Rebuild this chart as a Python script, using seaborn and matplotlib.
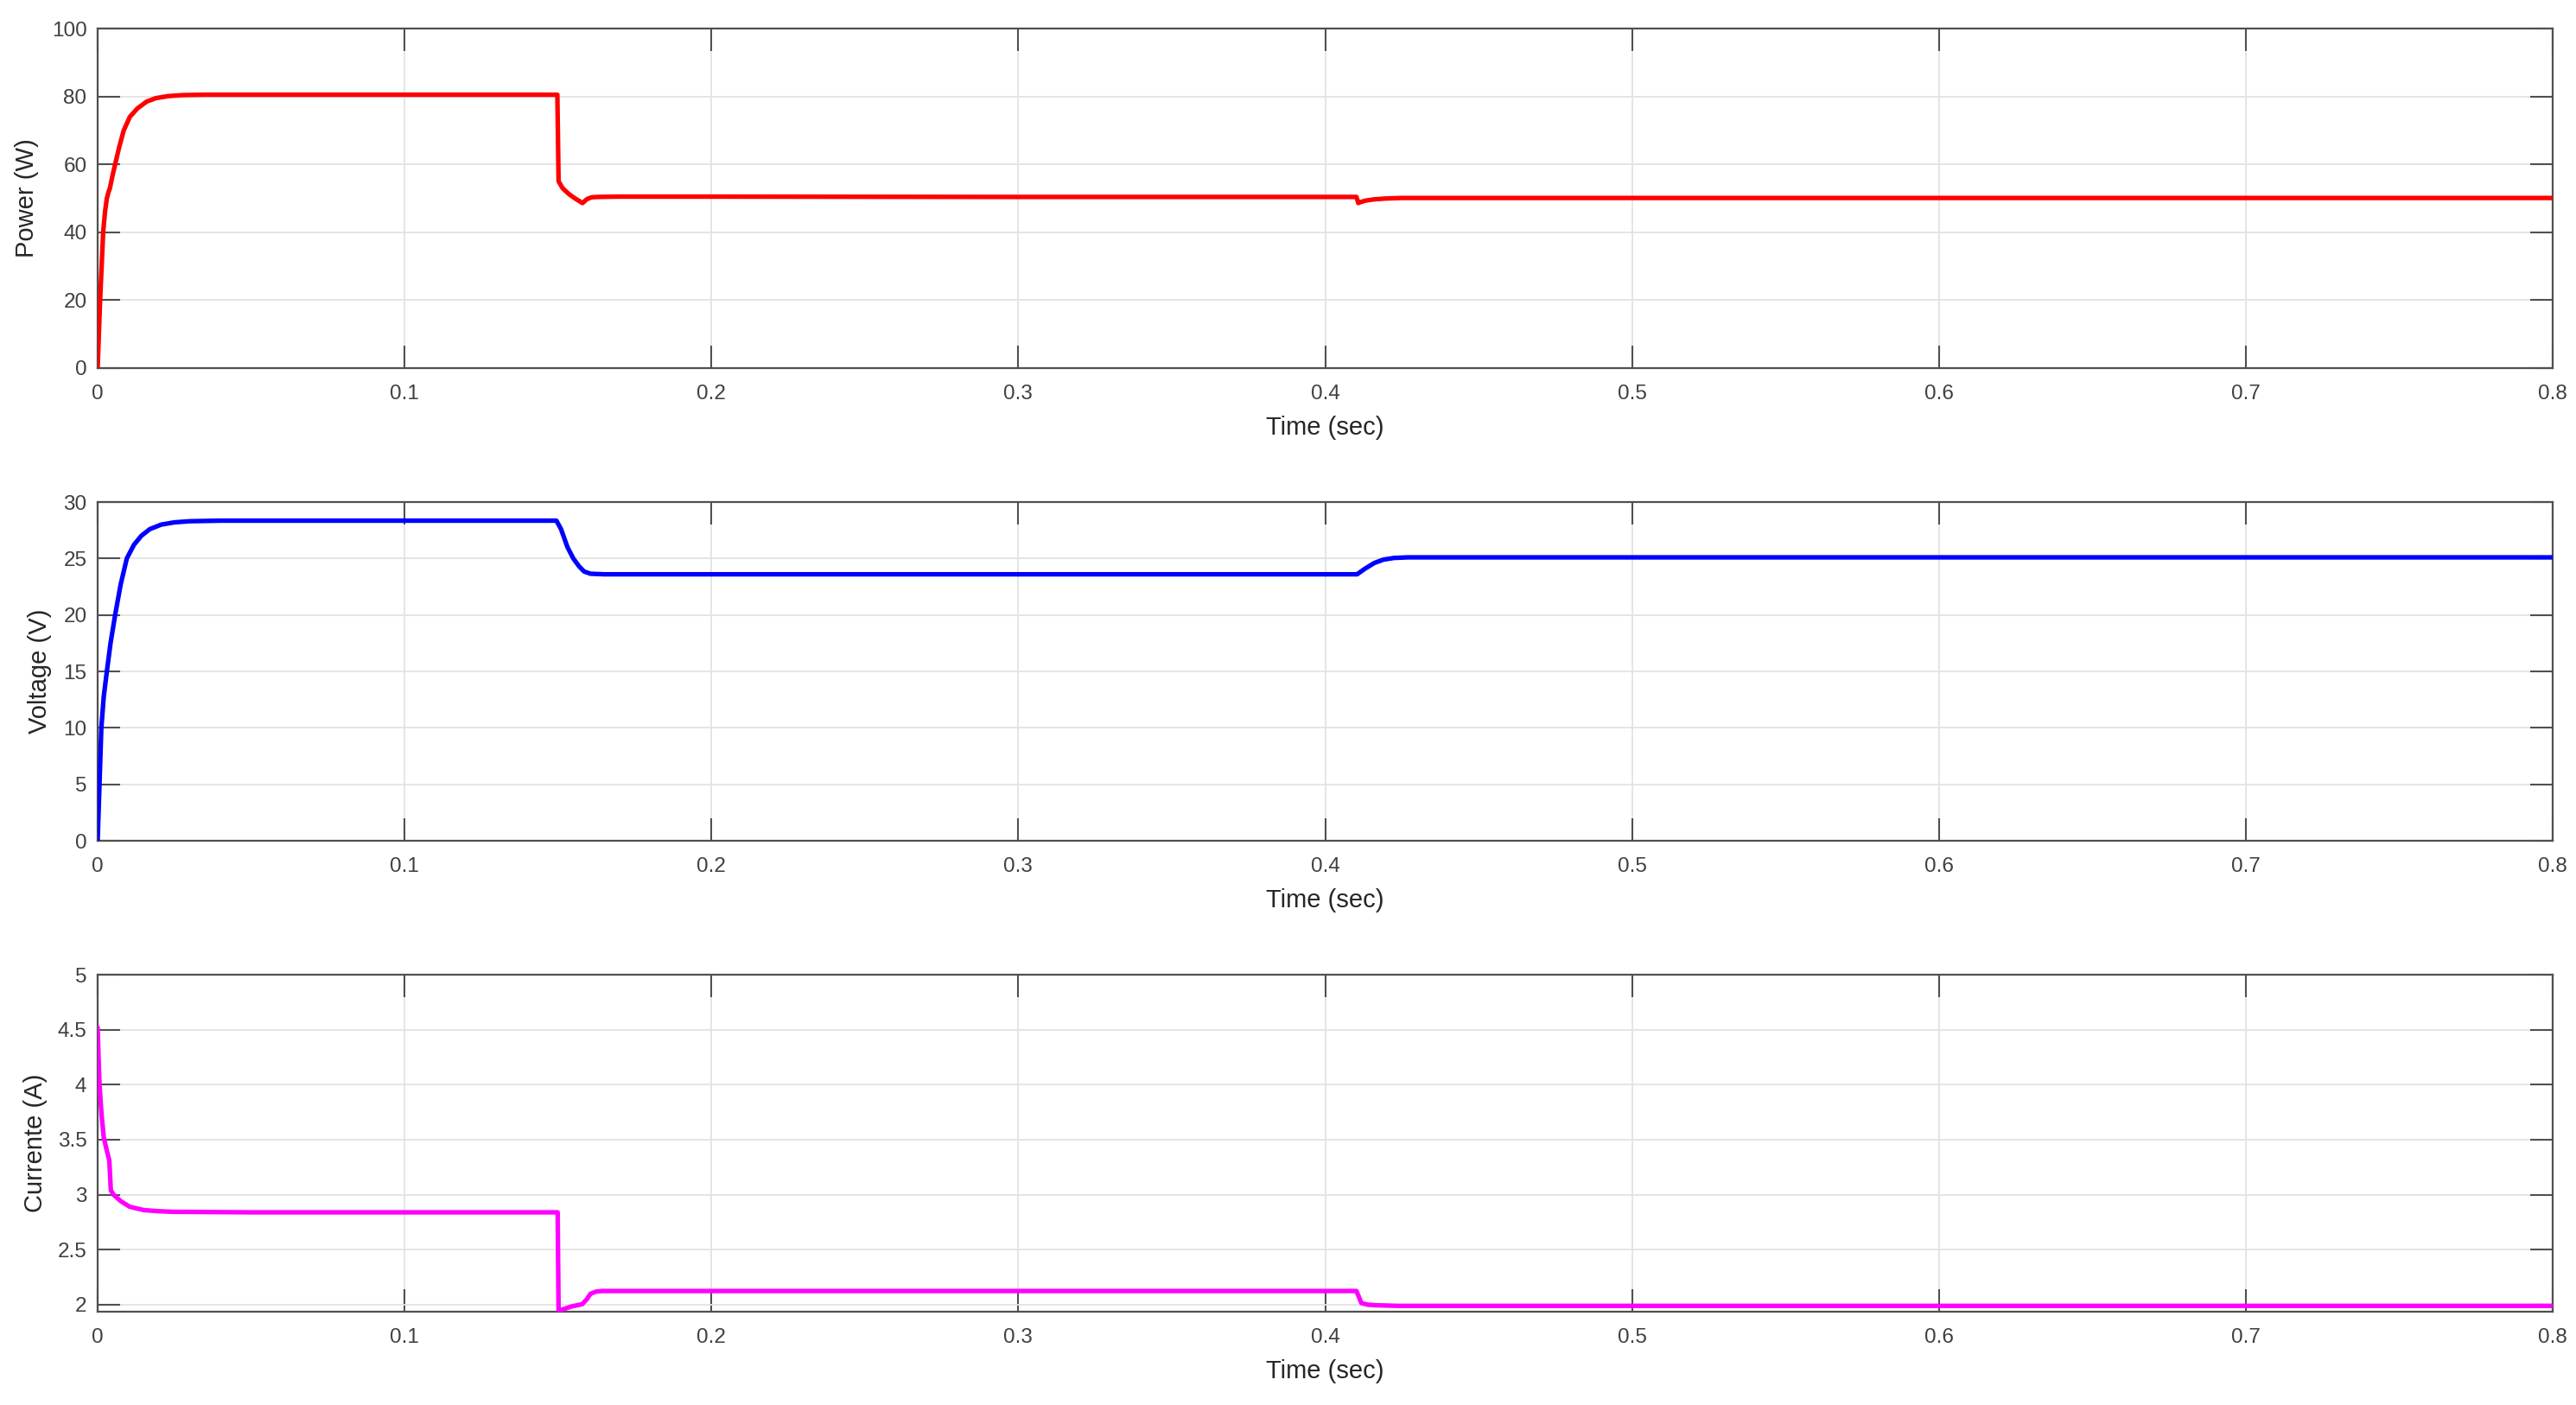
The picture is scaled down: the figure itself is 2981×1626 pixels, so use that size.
import numpy as np
import pandas as pd
import matplotlib
matplotlib.use("Agg")
import matplotlib.pyplot as plt
import seaborn as sns

# ---------------- data ----------------
power_t = [0, 0.0004, 0.0008, 0.0013, 0.0018, 0.0024, 0.003, 0.0036, 0.004, 0.0048,
           0.0057, 0.007, 0.0085, 0.0105, 0.013, 0.016, 0.019, 0.023, 0.028, 0.035,
           0.05, 0.1, 0.1498, 0.1502, 0.1515, 0.1535, 0.1555, 0.158, 0.1595, 0.161,
           0.163, 0.17, 0.2, 0.3, 0.4, 0.4102, 0.4108, 0.4113, 0.413, 0.416, 0.42,
           0.425, 0.44, 0.5, 0.6, 0.7, 0.8]
power_w = [0, 10, 20, 30, 40, 46, 50, 52, 53, 56.5,
           60, 65, 70, 74, 76.5, 78.5, 79.5, 80.1, 80.4, 80.5,
           80.5, 80.5, 80.5, 55, 53, 51.3, 50, 48.6, 49.8, 50.3,
           50.4, 50.5, 50.5, 50.4, 50.4, 50.4, 48.6, 48.8, 49.3, 49.7, 49.95,
           50.1, 50.1, 50.1, 50.1, 50.1, 50.1]

volt_t = [0, 0.0003, 0.0006, 0.0012, 0.002, 0.003, 0.0042, 0.0057, 0.0075, 0.0095,
          0.0118, 0.0142, 0.017, 0.0207, 0.025, 0.03, 0.04, 0.1, 0.1495, 0.151,
          0.1531, 0.155, 0.1569, 0.1585, 0.1606, 0.165, 0.2, 0.3, 0.4, 0.4104,
          0.413, 0.416, 0.419, 0.4225, 0.427, 0.435, 0.5, 0.6, 0.7, 0.8]
volt_v = [0, 2.5, 5, 10, 12.8, 15, 17.5, 20, 22.7, 25,
          26.2, 27, 27.6, 28.0, 28.2, 28.3, 28.35, 28.35, 28.35, 27.6,
          26, 25, 24.3, 23.85, 23.65, 23.6, 23.6, 23.6, 23.6, 23.6,
          24.1, 24.6, 24.9, 25.05, 25.1, 25.1, 25.1, 25.1, 25.1, 25.1]

curr_t = [0, 0.0003, 0.0006, 0.0013, 0.002, 0.003, 0.0038, 0.0043, 0.0052, 0.0076,
          0.0105, 0.0151, 0.02, 0.0245, 0.05, 0.1, 0.1499, 0.1502, 0.1512, 0.1545,
          0.1579, 0.1594, 0.1606, 0.1625, 0.1644, 0.17, 0.2, 0.3, 0.4, 0.4102,
          0.4118, 0.414, 0.417, 0.4236, 0.43, 0.5, 0.6, 0.7, 0.8]
curr_a = [4.52, 4.25, 4.0, 3.72, 3.52, 3.4, 3.31, 3.04, 3.0, 2.94,
          2.89, 2.86, 2.85, 2.845, 2.84, 2.84, 2.84, 1.935, 1.955, 1.985,
          2.005, 2.05, 2.10, 2.12, 2.125, 2.125, 2.125, 2.125, 2.125, 2.125,
          2.015, 2.0, 1.995, 1.99, 1.99, 1.99, 1.99, 1.99, 1.99]

x_ticks = [0, 0.1, 0.2, 0.3, 0.4, 0.5, 0.6, 0.7, 0.8]
x_ticklabels = ["0", "0.1", "0.2", "0.3", "0.4", "0.5", "0.6", "0.7", "0.8"]
power_ticks = [0, 20, 40, 60, 80, 100]
volt_ticks = [0, 5, 10, 15, 20, 25, 30]
curr_ticks = [2, 2.5, 3, 3.5, 4, 4.5, 5]
curr_ticklabels = ["2", "2.5", "3", "3.5", "4", "4.5", "5"]

# ---------------- style ----------------
sns.set_style("white")
plt.rcParams["font.family"] = ["Liberation Sans", "DejaVu Sans"]

W, H = 2981, 1626
fig = plt.figure(figsize=(W / 100, H / 100), dpi=100)
fig.patch.set_facecolor("white")

left_px, right_px = 113, 2954
panels = [
    dict(t=power_t, y=power_w, color="#ff0000", top=33, bottom=426, ylim=(0, 100),
         yticks=power_ticks, yticklabels=[str(v) for v in power_ticks],
         ylabel="Power (W)", ylab_px=45),
    dict(t=volt_t, y=volt_v, color="#0000ff", top=581, bottom=973, ylim=(0, 30),
         yticks=volt_ticks, yticklabels=[str(v) for v in volt_ticks],
         ylabel="Voltage (V)", ylab_px=60),
    dict(t=curr_t, y=curr_a, color="#ff00ff", top=1128, bottom=1518, ylim=(1.937, 5),
         yticks=curr_ticks, yticklabels=curr_ticklabels,
         ylabel="Currente (A)", ylab_px=55),
]

spine_col = "#505050"
text_col = "#404040"
axw = right_px - left_px

for p in panels:
    rect = [left_px / W, 1 - p["bottom"] / H, axw / W, (p["bottom"] - p["top"]) / H]
    ax = fig.add_axes(rect)
    df = pd.DataFrame({"Time": p["t"], "Value": p["y"]})
    sns.lineplot(data=df, x="Time", y="Value", ax=ax, color=p["color"],
                 linewidth=3.8, estimator=None, sort=False, zorder=3)
    ax.set_xlim(0, 0.8)
    ax.set_ylim(*p["ylim"])
    ax.set_xticks(x_ticks)
    ax.set_xticklabels(x_ticklabels)
    ax.set_yticks(p["yticks"])
    ax.set_yticklabels(p["yticklabels"])
    ax.grid(True, color="#e3e3e3", linewidth=1.3, zorder=0)
    ax.set_axisbelow(True)
    for s in ax.spines.values():
        s.set_color(spine_col)
        s.set_linewidth(1.6)
        s.set_visible(True)
    ax.tick_params(axis="both", which="major", direction="in", length=19, width=1.5,
                   color=spine_col, labelcolor=text_col, labelsize=17.5,
                   top=True, right=True, bottom=True, left=True)
    ax.tick_params(axis="x", pad=14)
    ax.tick_params(axis="y", pad=9)
    ax.set_xlabel("Time (sec)", fontsize=21, color="#262626")
    ax.set_ylabel(p["ylabel"], fontsize=21, color="#262626")
    hpx = p["bottom"] - p["top"]
    ax.xaxis.set_label_coords(0.5, -55 / hpx)
    ax.yaxis.set_label_coords((p["ylab_px"] - left_px) / axw, 0.5)

fig.savefig("out.png", dpi=100, facecolor="white")
